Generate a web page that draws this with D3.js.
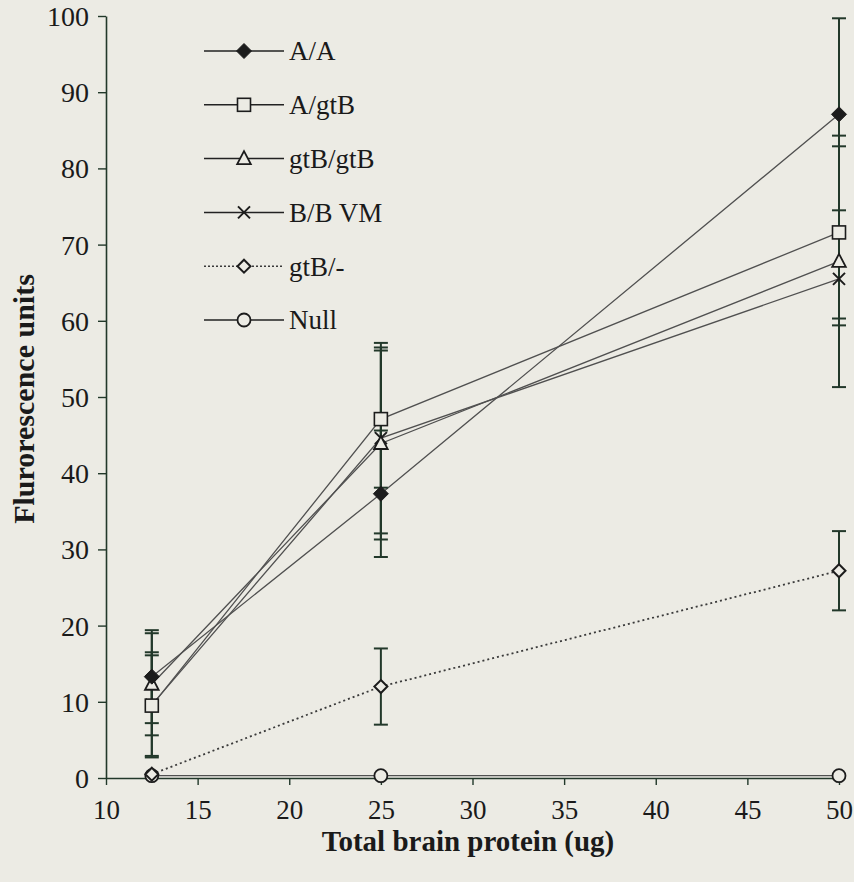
<!DOCTYPE html>
<html>
<head>
<meta charset="utf-8">
<script src="https://cdn.jsdelivr.net/npm/d3@7/dist/d3.min.js"></script>
<style>
  html, body { margin: 0; padding: 0; background: #ecebe4; }
  svg { display: block; }
  text { font-family: "Liberation Serif", "Times New Roman", serif; fill: #1a1a1a; }
</style>
</head>
<body>
<svg id="chart" width="854" height="882"></svg>
<script>
// Fluorescence vs. total brain protein, mean ± error per genotype
const proteinUg = [12.5, 25, 50];
const seriesNames = ["A/A", "A/gtB", "gtB/gtB", "B/B VM", "gtB/-", "Null"];
const aaMean      = [13.3, 37.3, 87.1];
const aaErr       = [6.1, 8.3, 12.6];
const agtbMean    = [9.5, 47.1, 71.6];
const agtbErr     = [6.6, 9.0, 11.3];
const gtbgtbMean  = [12.3, 43.9, 67.8];
const gtbgtbErr   = [6.7, 12.6, 16.5];
const bbvmMean    = [9.6, 44.6, 65.5];
const bbvmErr     = [6.9, 12.5, 6.1];
const gtbNullMean = [0.5, 12.0, 27.2];
const gtbNullErr  = [0, 5.0, 5.2];
const nullMean    = [0.3, 0.3, 0.3];
const nullErr     = [0, 0, 0];
const xTicks = [10, 15, 20, 25, 30, 35, 40, 45, 50];
const yTicks = [0, 10, 20, 30, 40, 50, 60, 70, 80, 90, 100];
const xTitle = "Total brain protein (ug)";
const yTitle = "Flurorescence units";

const series = [
  { name: seriesNames[0], mean: aaMean,      err: aaErr,      symbol: "diamondFilled", dashed: false },
  { name: seriesNames[1], mean: agtbMean,    err: agtbErr,    symbol: "square",        dashed: false },
  { name: seriesNames[2], mean: gtbgtbMean,  err: gtbgtbErr,  symbol: "triangle",      dashed: false },
  { name: seriesNames[3], mean: bbvmMean,    err: bbvmErr,    symbol: "cross",         dashed: false },
  { name: seriesNames[4], mean: gtbNullMean, err: gtbNullErr, symbol: "diamondOpen",   dashed: true  },
  { name: seriesNames[5], mean: nullMean,    err: nullErr,    symbol: "circle",        dashed: false }
];

const bg = "#ecebe4";
const axisColor = "#22382a";
const lineColor = "#505050";
const markColor = "#1c1c1c";

const svg = d3.select("#chart");
svg.append("rect").attr("width", 854).attr("height", 882).attr("fill", bg);

const x = d3.scaleLinear().domain([10, 50]).range([106, 839]);
const y = d3.scaleLinear().domain([0, 100]).range([778, 16]);

// Axes
const yAxis = d3.axisLeft(y).tickValues(yTicks).tickSize(8).tickSizeOuter(0).tickPadding(9);
const gy = svg.append("g").attr("transform", `translate(${x(10)},0)`).call(yAxis);
gy.select(".domain").attr("stroke", axisColor).attr("stroke-width", 1.6);
gy.selectAll(".tick line").attr("stroke", axisColor).attr("stroke-width", 1.4);
gy.selectAll(".tick text").attr("font-size", 28).attr("font-family", "Liberation Serif").attr("fill", "#1a1a1a").attr("dy", "0.34em");

const xAxis = d3.axisBottom(x).tickValues(xTicks).tickSize(7).tickSizeOuter(0).tickPadding(15);
const gx = svg.append("g").attr("transform", `translate(0,${y(0)})`).call(xAxis);
gx.select(".domain").attr("stroke", axisColor).attr("stroke-width", 1.6);
gx.selectAll(".tick line").attr("stroke", axisColor).attr("stroke-width", 1.4);
gx.selectAll(".tick text").attr("font-size", 27).attr("font-family", "Liberation Serif").attr("fill", "#1a1a1a").attr("dy", "0.72em");

svg.append("text")
  .attr("x", 468).attr("y", 851)
  .attr("text-anchor", "middle")
  .attr("font-size", 29).attr("font-weight", "bold")
  .text(xTitle);

svg.append("text")
  .attr("transform", `translate(34,${y(50) + 2}) rotate(-90)`)
  .attr("text-anchor", "middle")
  .attr("font-size", 30).attr("font-weight", "bold")
  .text(yTitle);

// Marker shapes
function drawMarker(g, type, cx, cy) {
  const s = g.append("g").attr("transform", `translate(${cx},${cy})`);
  if (type === "diamondFilled") {
    s.append("path").attr("d", "M0,-7.5L7.5,0L0,7.5L-7.5,0Z").attr("fill", markColor).attr("stroke", markColor).attr("stroke-width", 1);
  } else if (type === "diamondOpen") {
    s.append("path").attr("d", "M0,-6.5L6.5,0L0,6.5L-6.5,0Z").attr("fill", bg).attr("stroke", markColor).attr("stroke-width", 2);
  } else if (type === "square") {
    s.append("rect").attr("x", -6.5).attr("y", -6.5).attr("width", 13).attr("height", 13).attr("fill", bg).attr("stroke", markColor).attr("stroke-width", 1.6);
  } else if (type === "triangle") {
    s.append("path").attr("d", "M0,-7.5L6.8,5.5L-6.8,5.5Z").attr("fill", bg).attr("stroke", markColor).attr("stroke-width", 1.8);
  } else if (type === "cross") {
    s.append("path").attr("d", "M-6,-6L6,6M6,-6L-6,6").attr("fill", "none").attr("stroke", markColor).attr("stroke-width", 2);
  } else if (type === "circle") {
    s.append("circle").attr("r", 6.5).attr("fill", bg).attr("stroke", markColor).attr("stroke-width", 1.8);
  }
}

const line = d3.line().x(d => x(d.x)).y(d => y(d.y));

// Connecting lines
const linesG = svg.append("g");
series.forEach(s => {
  const pts = proteinUg.map((p, i) => ({ x: p, y: s.mean[i] }));
  linesG.append("path")
    .attr("d", line(pts))
    .attr("fill", "none")
    .attr("stroke", s.dashed ? "#3a3a3a" : lineColor)
    .attr("stroke-width", s.dashed ? 1.8 : 1.3)
    .attr("stroke-dasharray", s.dashed ? "2,3" : null);
});

// Error bars
const errG = svg.append("g");
const capHalf = 7;
series.forEach(s => {
  proteinUg.forEach((p, i) => {
    const e = s.err[i];
    if (!e) return;
    const cx = x(p), top = y(s.mean[i] + e), bot = y(s.mean[i] - e);
    errG.append("line").attr("x1", cx).attr("x2", cx).attr("y1", top).attr("y2", bot)
      .attr("stroke", axisColor).attr("stroke-width", 2);
    [top, bot].forEach(yy => {
      errG.append("line").attr("x1", cx - capHalf).attr("x2", cx + capHalf).attr("y1", yy).attr("y2", yy)
        .attr("stroke", axisColor).attr("stroke-width", 2);
    });
  });
});

// Markers
const markG = svg.append("g");
series.slice().reverse().forEach(s => {
  proteinUg.forEach((p, i) => drawMarker(markG, s.symbol, x(p), y(s.mean[i])));
});

// Legend
const legendY = d3.scaleLinear().domain([0, 5]).range([51, 320]);
const legG = svg.append("g");
series.forEach((s, i) => {
  const ly = legendY(i);
  legG.append("line").attr("x1", 204).attr("x2", 284).attr("y1", ly).attr("y2", ly)
    .attr("stroke", s.dashed ? "#3a3a3a" : "#222")
    .attr("stroke-width", 1.5)
    .attr("stroke-dasharray", s.dashed ? "2,2" : null);
  drawMarker(legG, s.symbol, 244, ly);
  legG.append("text").attr("x", 289).attr("y", ly).attr("dy", "0.35em")
    .attr("font-size", 27).text(s.name);
});
</script>
</body>
</html>
